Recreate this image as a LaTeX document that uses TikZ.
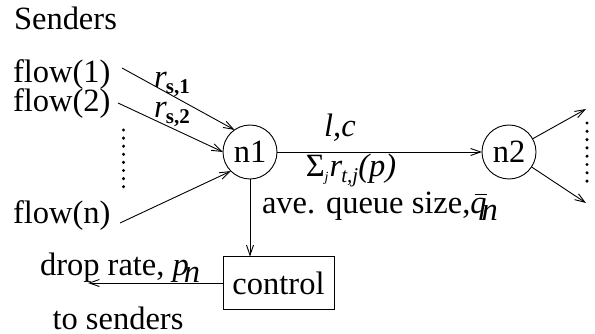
\documentclass[tikz,border=0pt]{standalone}
\usepackage{fontspec}
\setmainfont{Liberation Serif}
\usetikzlibrary{arrows.meta}
\begin{document}
\begin{tikzpicture}[x=1pt,y=-1pt,
  every node/.style={inner sep=0pt, outer sep=0pt},
  lbl/.style={font=\fontsize{32.5}{38}\selectfont},
  nodecirc/.style={circle, draw, line width=0.9pt, minimum size=54pt, font=\fontsize{32.5}{38}\selectfont},
  ctrlbox/.style={draw, line width=0.9pt, minimum width=111pt, minimum height=53pt, font=\fontsize{32.5}{38}\selectfont},
  conn/.style={line width=0.9pt, -{Straight Barb[length=10pt,width=7pt]}},
  dotmark/.style={circle, fill, minimum size=3.4pt}
]
\useasboundingbox (0,0) rectangle (595,334);
\node[lbl, anchor=west] (senders) at (14,18) {Senders};
\node[lbl, anchor=west] (f1) at (13,75) {flow(1)};
\node[lbl, anchor=west] (f2) at (13,104) {flow(2)};
\node[lbl, anchor=west] (fn) at (13,216) {flow(n)};
\node[nodecirc] (n1) at (250,152) {n1};
\node[nodecirc] (n2) at (509,152) {n2};
\node[ctrlbox] (ctrl) at (278.5,283) {control};
\coordinate (s1) at (122,68);
\coordinate (s2) at (118,103);
\coordinate (sn) at (120,223);
\coordinate (o1) at (586,109);
\coordinate (o2) at (586,203);
\coordinate (tosend) at (88,283);
\draw[conn] (s1) -- (n1.125);
\draw[conn] (s2) -- (n1.180);
\draw[conn] (sn) -- (n1.225);
\draw[conn] (n1) -- (n2);
\draw[conn] (n2) -- (o1);
\draw[conn] (n2) -- (o2);
\draw[conn] (n1.south) -- (n1.south |- ctrl.north);
\draw[conn] (ctrl.west) -- (tosend);
% labels
\node[lbl] (rs1) at (172,84) {\textit{r}\kern-1pt\raisebox{-6pt}{\fontsize{21}{21}\selectfont\bfseries s,1}};
\node[lbl] (rs2) at (172,114) {\textit{r}\kern-1pt\raisebox{-6pt}{\fontsize{21}{21}\selectfont\bfseries s,2}};
\node[lbl] (lc) at (340,128) {\textit{l,c}};
\node[lbl] (sum) at (351,170) {Σ\raisebox{-5pt}{\fontsize{14}{14}\selectfont\textit{j}}\kern1pt\textit{r}\kern-1pt\raisebox{-6pt}{\fontsize{21}{21}\selectfont\textit{t,j}}\textit{(p)}};
\node[lbl, anchor=west] (ave) at (262,206) {ave. queue size,\textit{q}\llap{\raisebox{18pt}{\rule{12pt}{1pt}}}\kern-5pt\raisebox{-7pt}{\textit{n}}};
\node[lbl, anchor=west] (drop) at (40,268) {drop rate, \textit{p}\kern-5pt\raisebox{-7pt}{\textit{n}}};
\node[lbl] (tos) at (118,318) {to senders};
% dots
\foreach \i in {0,...,7} {
  \node[dotmark] (ld\i) at (123.5,130+8.1*\i) {};
  \node[dotmark] (rd\i) at (587,123+8.3*\i) {};
}
\end{tikzpicture}
\end{document}
